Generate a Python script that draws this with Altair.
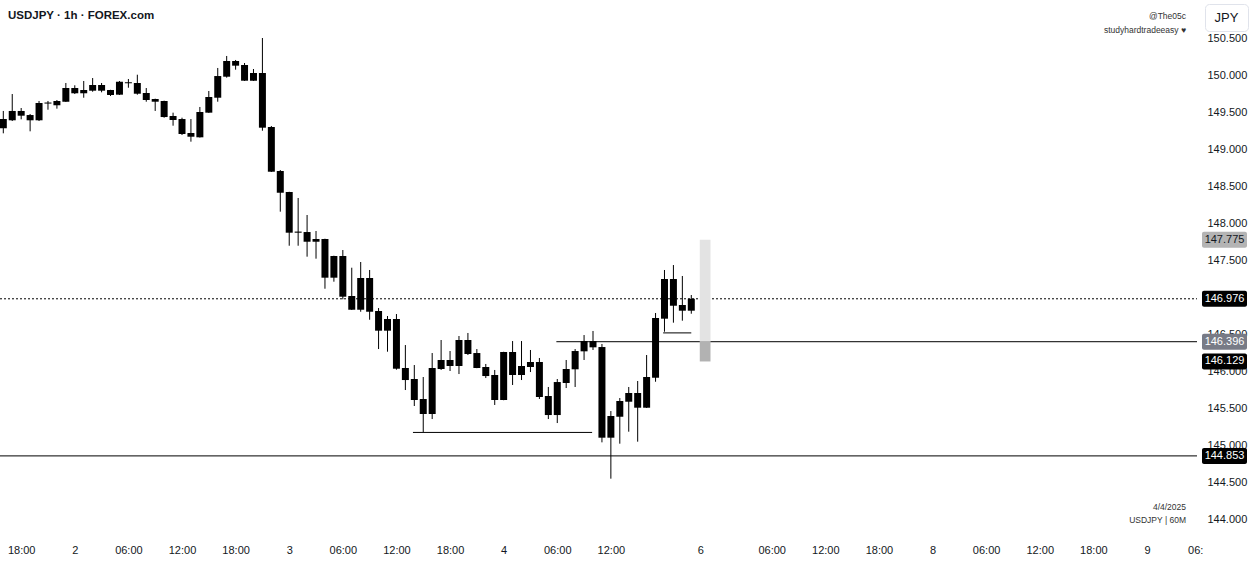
import altair as alt
import pandas as pd

# ---------------- data ----------------
bar_index = list(range(78))
opens = [149.280, 149.388, 149.514, 149.459, 149.388, 149.614, 149.591, 149.639, 149.824, 149.753,
         149.788, 149.865, 149.797, 149.734, 149.902, 149.892, 149.757, 149.676, 149.649, 149.446,
         149.405, 149.216, 149.158, 149.491, 149.693, 149.977, 150.189, 150.135, 149.923, 150.027,
         149.297, 148.703, 148.419, 147.884, 147.878, 147.784, 147.784, 147.261, 147.554, 147.014,
         146.828, 147.257, 146.811, 146.545, 146.703, 146.041, 145.892, 145.622, 145.419, 146.027,
         146.149, 146.068, 146.419, 146.243, 146.054, 145.946, 145.608, 146.257, 145.946, 146.054,
         146.122, 145.662, 145.405, 145.838, 146.023, 146.266, 146.405, 146.324, 145.099, 145.382,
         145.585, 145.703, 145.504, 145.909, 146.707, 147.243, 146.892, 146.815]
highs = [149.514, 149.743, 149.554, 149.473, 149.649, 149.649, 149.662, 149.892, 149.861, 149.919,
         149.959, 149.892, 149.800, 149.919, 149.946, 150.004, 149.824, 149.680, 149.653, 149.491,
         149.423, 149.405, 149.568, 149.784, 150.095, 150.257, 150.203, 150.162, 150.081, 150.500,
         149.311, 148.716, 148.422, 148.338, 148.108, 147.892, 147.788, 147.558, 147.635, 147.396,
         147.473, 147.365, 146.851, 146.743, 146.770, 146.351, 146.081, 145.919, 146.243, 146.419,
         146.270, 146.473, 146.514, 146.297, 146.095, 146.014, 146.260, 146.405, 146.405, 146.284,
         146.176, 145.784, 145.892, 146.149, 146.297, 146.486, 146.541, 146.365, 145.459, 145.635,
         145.784, 145.865, 146.216, 146.784, 147.365, 147.432, 147.284, 147.027]
lows = [149.212, 149.378, 149.401, 149.239, 149.378, 149.531, 149.545, 149.636, 149.743, 149.693,
        149.774, 149.766, 149.716, 149.730, 149.828, 149.734, 149.639, 149.514, 149.423, 149.315,
        149.189, 149.099, 149.155, 149.488, 149.639, 149.964, 150.072, 149.920, 149.920, 149.247,
        148.690, 148.153, 147.693, 147.693, 147.545, 147.518, 147.112, 147.207, 146.969, 146.825,
        146.801, 146.693, 146.297, 146.261, 146.018, 145.743, 145.527, 145.176, 145.351, 146.014,
        146.000, 145.959, 146.216, 146.038, 145.905, 145.541, 145.605, 145.811, 145.878, 145.986,
        145.622, 145.351, 145.297, 145.770, 145.784, 146.149, 146.284, 145.036, 144.545, 145.018,
        145.180, 145.045, 145.500, 145.855, 146.531, 146.653, 146.680, 146.774]
closes = [149.405, 149.514, 149.450, 149.388, 149.622, 149.628, 149.649, 149.824, 149.753, 149.797,
          149.865, 149.788, 149.730, 149.909, 149.888, 149.747, 149.662, 149.639, 149.432, 149.392,
          149.203, 149.166, 149.500, 149.703, 149.986, 150.189, 150.126, 149.923, 150.027, 149.288,
          148.693, 148.409, 147.869, 147.869, 147.747, 147.747, 147.261, 147.554, 147.004, 146.828,
          147.257, 146.801, 146.545, 146.703, 146.031, 145.878, 145.608, 145.419, 146.041, 146.149,
          146.068, 146.419, 146.230, 146.041, 145.932, 145.608, 146.257, 145.946, 146.068, 146.122,
          145.649, 145.405, 145.851, 146.027, 146.270, 146.405, 146.320, 145.099, 145.392, 145.595,
          145.703, 145.504, 145.919, 146.716, 147.243, 146.882, 146.815, 146.976]

time_tick_pos = [2, 8, 14, 20, 26, 32, 38, 44, 50, 56, 62, 68, 78, 86, 92, 98, 104, 110, 116, 122, 128, 133.4]
time_tick_labels = ["18:00", "2", "06:00", "12:00", "18:00", "3", "06:00", "12:00", "18:00", "4",
                    "06:00", "12:00", "6", "06:00", "12:00", "18:00", "8", "06:00", "12:00", "18:00",
                    "9", "06:"]
# 147.000 is hidden under the last-price tag in the reference
price_ticks = [144.0, 144.5, 145.0, 145.5, 146.0, 146.5, 147.5, 148.0, 148.5, 149.0, 149.5, 150.0, 150.5]

# drawn horizontal levels (solid)
level_price = [144.853, 146.396, 145.17, 146.515]
level_from = [-0.37, 61.9, 45.85, 73.85]
level_to = [133.6, 133.6, 65.9, 77.0]
# last price (dotted)
last_price = [146.976]

# projection box on the right of the last candle
box_from = [77.95, 77.95]
box_to = [79.15, 79.15]
box_top = [147.775, 146.396]
box_bottom = [146.396, 146.129]
box_color = ["#e3e3e3", "#b2b2b2"]

# price tags on the price scale
tag_price = [147.775, 146.976, 146.396, 146.129, 144.853]
tag_bg = ["#b4b4b4", "#000000", "#787b86", "#000000", "#000000"]
tag_fg = ["#131722", "#ffffff", "#ffffff", "#ffffff", "#ffffff"]

# ---------------- chart ----------------
FONT = "Liberation Sans"
TXT = "#131722"
W, H = 1197, 535

xs = alt.Scale(domain=[-0.37, 133.6], nice=False, zero=False, padding=0)
ys = alt.Scale(domain=[143.784, 151.0135], nice=False, zero=False, padding=0)

label_expr = "[" + ",".join(f"'{t}'" for t in time_tick_labels) + "][indexof([" + \
    ",".join(str(p) for p in time_tick_pos) + "], datum.value)]"

xaxis = alt.Axis(title=None, values=time_tick_pos, labelExpr=label_expr, grid=False, domain=False,
                 ticks=False, labelPadding=9, labelFontSize=11, labelFont=FONT, labelColor=TXT,
                 labelFlush=False, labelOverlap=False, orient="bottom")
yaxis = alt.Axis(title=None, values=price_ticks, format=".3f", grid=False, domain=False, ticks=False,
                 labelPadding=10, labelFontSize=11, labelFont=FONT, labelColor=TXT, orient="right",
                 labelOverlap=False, labelFlush=False)


def X(f):
    return alt.X(f, scale=xs, axis=xaxis)


def Y(f):
    return alt.Y(f, scale=ys, axis=yaxis)


candles = pd.DataFrame({"i": bar_index, "o": opens, "h": highs, "l": lows, "c": closes})
levels = pd.DataFrame({"p": level_price, "a": level_from, "b": level_to})
lastdf = pd.DataFrame({"p": last_price, "a": [-0.37], "b": [133.6]})
boxes = pd.DataFrame({"a": box_from, "b": box_to, "t": box_top, "u": box_bottom, "col": box_color})
tags = pd.DataFrame({"p": tag_price, "bg": tag_bg, "fg": tag_fg,
                     "t": [f"{v:.3f}" for v in tag_price]})
one = pd.DataFrame({"k": [0]})

dotted = alt.Chart(lastdf).mark_rule(color="#000000", strokeWidth=1, strokeDash=[2, 2]).encode(
    x=X("a:Q"), x2="b:Q", y=Y("p:Q"))
solid = alt.Chart(levels).mark_rule(color="#000000", strokeWidth=1).encode(
    x=X("a:Q"), x2="b:Q", y=Y("p:Q"))
proj = alt.Chart(boxes).mark_rect().encode(
    x=X("a:Q"), x2="b:Q", y=Y("t:Q"), y2="u:Q", color=alt.Color("col:N", scale=None))
wicks = alt.Chart(candles).mark_rule(color="#000000", strokeWidth=1).encode(
    x=X("i:Q"), y=Y("l:Q"), y2="h:Q")
bodies = alt.Chart(candles).mark_bar(color="#000000", size=7).encode(
    x=X("i:Q"), y=Y("o:Q"), y2="c:Q")

tag_rect = alt.Chart(tags).mark_rect(yOffset=-8, y2Offset=8, cornerRadius=2).encode(
    x=alt.value(1202), x2=alt.value(1247), y=Y("p:Q"), y2="p:Q",
    color=alt.Color("bg:N", scale=None))
tag_text = alt.Chart(tags).mark_text(font=FONT, fontSize=11, align="center", baseline="middle").encode(
    x=alt.value(1224.5), y=Y("p:Q"), text="t:N", color=alt.Color("fg:N", scale=None))


def label(txt, x, y, size, align="left", weight="normal", color=TXT, font=FONT):
    return alt.Chart(one).mark_text(text=txt, font=font, fontSize=size, align=align,
                                    baseline="middle", fontWeight=weight, color=color).encode(
        x=alt.value(x), y=alt.value(y))


title = label("USDJPY · 1h · FOREX.com", 8, 16, 11.5, weight="bold")
wm1 = label("@The05c", 1186, 16, 8.5, align="right", color="#333333")
wm2 = label("studyhardtradeeasy ♥", 1186, 30, 8.5, align="right", color="#333333")
wm3 = label("4/4/2025", 1186, 507, 8.5, align="right", color="#333333")
wm4 = label("USDJPY | 60M", 1186, 520, 8.5, align="right", color="#333333")

jpy_box = alt.Chart(one).mark_rect(fill="#ffffff", stroke="#e0e3eb", strokeWidth=1, cornerRadius=4).encode(
    x=alt.value(1205.5), x2=alt.value(1248.5), y=alt.value(4.5), y2=alt.value(31.5))
jpy_txt = label("JPY", 1226.5, 18, 13, align="center")

chart = alt.layer(
    dotted, solid, proj, wicks, bodies, tag_rect, tag_text,
    title, wm1, wm2, wm3, wm4, jpy_box, jpy_txt
).properties(
    width=W, height=H,
    autosize=alt.AutoSizeParams(type="none"),
    padding={"left": 0, "top": 0, "right": 56, "bottom": 29},
).configure(background="#ffffff").configure_view(stroke="transparent")

chart.save("out.html", embed_options={"renderer": "svg", "actions": False})
